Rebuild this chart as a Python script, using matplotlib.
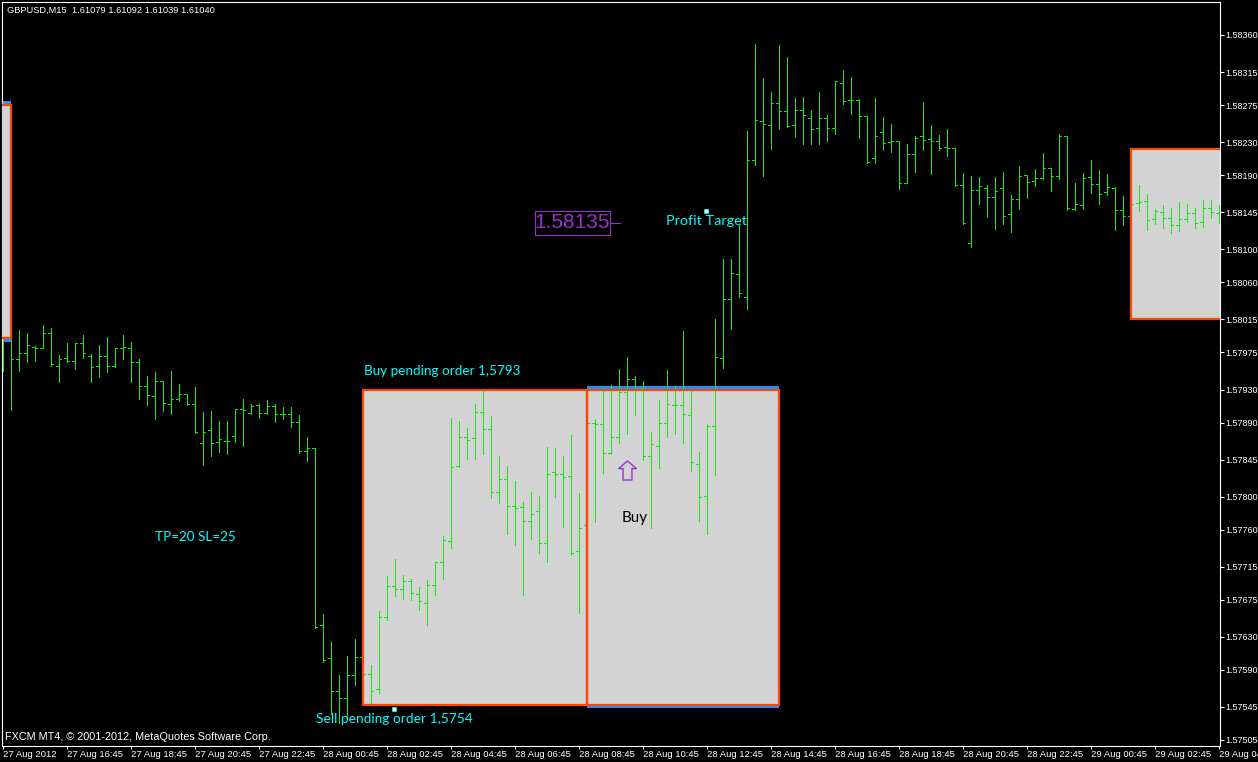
import numpy as np
import matplotlib
matplotlib.use("Agg")
import matplotlib.pyplot as plt
from matplotlib.patches import Rectangle
from matplotlib.path import Path
from matplotlib.lines import Line2D
from matplotlib.transforms import ScaledTranslation

W, H = 1258, 762

# prices are kept as points above 1.57000 (1 point = 0.00001)
BASE = 1.57

high = [1051, 997, 1002, 999, 983, 1008, 1005, 972, 986, 986, 996, 973, 984, 994, 980, 996,
        988, 967, 946, 951, 940, 952, 937, 925, 933, 903, 904, 892, 892, 906, 919, 912,
        912, 917, 912, 909, 909, 899, 872, 859, 658, 624, 584, 607, 627, 614, 596, 661,
        704, 724, 705, 700, 691, 699, 721, 752, 895, 892, 883, 912, 928, 898, 849, 837,
        819, 794, 806, 801, 860, 859, 849, 875, 804, 893, 894, 932, 935, 955, 969, 946,
        940, 878, 917, 954, 934, 1001, 928, 854, 888, 1016, 1088, 1088, 1130, 1244, 1349, 1308,
        1291, 1348, 1333, 1284, 1285, 1269, 1291, 1263, 1304, 1318, 1309, 1282, 1262, 1284, 1261, 1252,
        1231, 1228, 1237, 1279, 1251, 1239, 1246, 1223, 1193, 1189, 1188, 1178, 1188, 1194, 1166, 1201,
        1190, 1197, 1217, 1199, 1240, 1237, 1180, 1193, 1208, 1196, 1191, 1176, 1165, 1162, 1178, 1167,
        1149, 1154, 1150, 1157, 1155, 1150, 1160, 1160, 1154]
low = [953, 905, 952, 963, 965, 980, 959, 939, 963, 955, 968, 939, 945, 951, 957, 967,
       939, 919, 911, 894, 904, 900, 916, 911, 877, 838, 849, 854, 852, 866, 861, 900,
       895, 900, 891, 894, 885, 853, 843, 641, 600, 536, 525, 532, 572, 578, 550, 562,
       650, 680, 676, 675, 663, 644, 681, 700, 738, 836, 846, 846, 852, 798, 792, 755,
       741, 681, 749, 732, 721, 800, 763, 729, 659, 760, 769, 829, 852, 865, 876, 899,
       845, 762, 835, 872, 876, 865, 831, 771, 755, 826, 956, 1003, 1042, 1028, 1202, 1189,
       1222, 1246, 1248, 1236, 1228, 1228, 1228, 1231, 1240, 1276, 1264, 1235, 1205, 1205, 1220, 1218,
       1173, 1180, 1194, 1220, 1191, 1220, 1213, 1177, 1131, 1103, 1155, 1139, 1125, 1131, 1121, 1149,
       1162, 1177, 1185, 1171, 1185, 1148, 1148, 1149, 1168, 1155, 1166, 1123, 1130, 1133, 1147, 1123,
       1131, 1126, 1120, 1122, 1133, 1126, 1127, 1138, 1132]
opens = [1002, 996, 967, 974, 981, 980, 999, 959, 968, 965, 987, 971, 959, 971, 958, 980,
         980, 963, 934, 922, 940, 913, 918, 925, 912, 865, 881, 866, 867, 874, 906, 902,
         911, 901, 910, 900, 900, 891, 856, 859, 644, 604, 564, 556, 584, 606, 585, 567,
         654, 692, 688, 698, 682, 671, 693, 721, 746, 837, 872, 871, 903, 882, 806, 821,
         789, 788, 771, 783, 744, 830, 828, 825, 734, 766, 889, 888, 853, 872, 927, 943,
         932, 849, 861, 889, 911, 911, 899, 840, 801, 886, 968, 1040, 1070, 1042, 1208, 1256,
         1251, 1277, 1268, 1251, 1269, 1259, 1247, 1259, 1247, 1302, 1281, 1281, 1262, 1211, 1242, 1230,
         1231, 1180, 1216, 1237, 1234, 1231, 1224, 1223, 1178, 1108, 1172, 1174, 1163, 1174, 1143, 1161,
         1190, 1183, 1187, 1199, 1189, 1237, 1149, 1154, 1188, 1179, 1170, 1174, 1148, 1140, 1156, 1159,
         1137, 1145, 1138, 1130, 1137, 1144, 1133, 1150, 1144]
closes = [1014, 967, 974, 984, 980, 998, 961, 967, 965, 986, 974, 957, 971, 958, 980, 981,
          963, 934, 923, 940, 914, 918, 925, 913, 878, 878, 865, 870, 867, 906, 905, 910,
          902, 910, 900, 900, 891, 856, 859, 642, 602, 564, 556, 584, 606, 585, 564, 654,
          692, 688, 698, 683, 673, 693, 721, 748, 836, 872, 869, 903, 882, 806, 821, 789,
          786, 771, 779, 744, 828, 828, 824, 732, 762, 889, 888, 853, 872, 927, 943, 932,
          849, 864, 889, 912, 911, 900, 842, 800, 886, 969, 1040, 1071, 1047, 1208, 1257, 1252,
          1277, 1268, 1250, 1269, 1263, 1246, 1259, 1247, 1304, 1280, 1281, 1262, 1206, 1237, 1229, 1231,
          1180, 1216, 1235, 1233, 1231, 1223, 1223, 1178, 1132, 1172, 1177, 1163, 1171, 1140, 1161, 1189,
          1182, 1187, 1199, 1189, 1237, 1150, 1155, 1187, 1179, 1167, 1176, 1148, 1140, 1155, 1157, 1136,
          1147, 1138, 1130, 1137, 1144, 1132, 1150, 1145, 1143]

time_labels = ["27 Aug 2012", "27 Aug 16:45", "27 Aug 18:45", "27 Aug 20:45", "27 Aug 22:45",
               "28 Aug 00:45", "28 Aug 02:45", "28 Aug 04:45", "28 Aug 06:45", "28 Aug 08:45",
               "28 Aug 10:45", "28 Aug 12:45", "28 Aug 14:45", "28 Aug 16:45", "28 Aug 18:45",
               "28 Aug 20:45", "28 Aug 22:45", "29 Aug 00:45", "29 Aug 02:45", "29 Aug 04:45"]
price_ticks = [1.58360, 1.58315, 1.58275, 1.58230, 1.58190, 1.58145, 1.58100, 1.58060, 1.58015,
               1.57975, 1.57930, 1.57890, 1.57845, 1.57800, 1.57760, 1.57715, 1.57675, 1.57630,
               1.57590, 1.57545, 1.57505]

# order boxes: first bar, last bar, top, bottom
box_start = [-20, 45, 73, 141]
box_end = [1, 73, 97, 156]
box_top = [1.58275, 1.57929, 1.57929, 1.58222]
box_bottom = [1.57993, 1.57548, 1.57548, 1.58016]
# blue boxes underneath
blue_start = [-20, 73]
blue_end = [1, 97]
blue_top = [1.58280, 1.57934]
blue_bottom = [1.57988, 1.57544]

anchor_bar = [87.85, 48.85]
anchor_price = [1.58147, 1.57543]
arrow_bar = 78
arrow_price = 1.57832

BLACK = "#000000"
WHITE = "#ffffff"
GREEN = "#1ee61e"
TICK_GREEN = "#00f000"
ORANGE = "#ff4500"
GREY = "#d3d3d3"
BLUE = "#1e90ff"
CYAN = "#00ffff"
PURPLE = "#9932cc"

AXIS_FONT = ["Liberation Sans", "DejaVu Sans"]
NOTE_FONT = ["Lato", "DejaVu Sans"]


def figx(x):
    return x / W


def figy(y):
    return 1 - y / H


x = np.arange(len(high))
hi = BASE + np.array(high) / 1e5
lo = BASE + np.array(low) / 1e5
op = BASE + np.array(opens) / 1e5
cl = BASE + np.array(closes) / 1e5

fig = plt.figure(figsize=(W / 100, H / 100), dpi=100, facecolor=BLACK)
ax = fig.add_axes([figx(1.7), figy(745.5), figx(1219.7) - figx(1.7), figy(2) - figy(745.5)])
ax.set_facecolor(BLACK)
ax.set_xlim(-0.125, 152.125)
ax.set_ylim(BASE + 498.3 / 1e5, BASE + 1400 / 1e5)

for spine in ax.spines.values():
    spine.set_color(WHITE)
    spine.set_linewidth(0.8)

# boxes, blue first, the first fill hides its bars
for s, e, t, b in zip(blue_start, blue_end, blue_top, blue_bottom):
    ax.add_patch(Rectangle((s, b), e - s, t - b, fc=BLUE, ec="none", zorder=1))
for k, (s, e, t, b) in enumerate(zip(box_start, box_end, box_top, box_bottom)):
    ax.add_patch(Rectangle((s, b), e - s, t - b, fc=GREY, ec="none", zorder=4 if k == 0 else 1.5))
    ax.add_patch(Rectangle((s, b), e - s, t - b, fill=False, ec=ORANGE, lw=1.6, zorder=5))

# ohlc bars
ax.vlines(x, lo, hi, color=GREEN, lw=0.72, zorder=3, antialiased=False)
ax.hlines(op, x - 0.33, x, color=TICK_GREEN, lw=0.72, zorder=3, antialiased=False)
ax.hlines(cl, x, x + 0.33, color=TICK_GREEN, lw=0.72, zorder=3, antialiased=False)

# arrow object
arrow = Path([(0, 1), (0.93, 0.2), (0.47, 0.2), (0.47, -1), (-0.47, -1), (-0.47, 0.2), (-0.93, 0.2), (0, 1)], closed=True)
ax.plot([arrow_bar], [arrow_price], marker=arrow, ms=13.7, mfc="none", mec=PURPLE, mew=1.0, zorder=6, ls="none")

# text anchors
ax.plot(anchor_bar, anchor_price, ls="none", marker="s", ms=2.2, mfc=WHITE, mec=CYAN, mew=0.5, zorder=6)

ax.set_xticks(np.arange(len(time_labels)) * 8)
ax.set_xticklabels(time_labels, fontfamily=AXIS_FONT, fontsize=6.8, color=WHITE, ha="left")
nudge = ScaledTranslation(-1 / 100, 0, fig.dpi_scale_trans)
for lab in ax.get_xticklabels():
    lab.set_transform(lab.get_transform() + nudge)
ax.yaxis.tick_right()
ax.set_yticks(price_ticks)
ax.set_yticklabels(["%.5f" % p for p in price_ticks], fontfamily=AXIS_FONT, fontsize=6.5, color=WHITE)
ax.tick_params(axis="x", colors=WHITE, length=2.5, width=0.8, pad=0.8)
ax.tick_params(axis="y", colors=WHITE, length=3, width=0.8, pad=1.4)

# header and footer
fig.text(figx(7), figy(10), "GBPUSD,M15  1.61079 1.61092 1.61039 1.61040", color=WHITE,
         fontfamily=AXIS_FONT, fontsize=6.7, va="center")
fig.text(figx(5), figy(737), "FXCM MT4, \u00a9 2001-2012, MetaQuotes Software Corp.", color=WHITE,
         fontfamily=AXIS_FONT, fontsize=7.85, va="center")

# notes on the chart
for tx, ty, s, size in [(364, 371, "Buy pending order 1,5793", 9.7),
                        (155, 537, "TP=20 SL=25", 9.7),
                        (666, 221, "Profit Target", 10.4),
                        (316, 719, "Sell pending order 1,5754", 9.95)]:
    fig.text(figx(tx), figy(ty), s, color=CYAN, fontfamily=NOTE_FONT, fontsize=size, va="center", zorder=10)
fig.text(figx(622), figy(518), "Buy", color=BLACK, fontfamily=NOTE_FONT, fontsize=11, va="center", zorder=10)

# price label with its box
fig.add_artist(Rectangle((figx(535), figy(234.5)), figx(74.5), 24 / H, fill=False, ec=PURPLE, lw=0.8,
                         transform=fig.transFigure))
fig.add_artist(Line2D([figx(610), figx(620)], [figy(222.5), figy(222.5)], color=PURPLE, lw=0.8,
                      transform=fig.transFigure))
fig.text(figx(572.5), figy(223), "1.58135", color=PURPLE, fontfamily=AXIS_FONT, fontsize=15,
         ha="center", va="center", zorder=10)

fig.savefig("out.png", dpi=100, facecolor=BLACK)
